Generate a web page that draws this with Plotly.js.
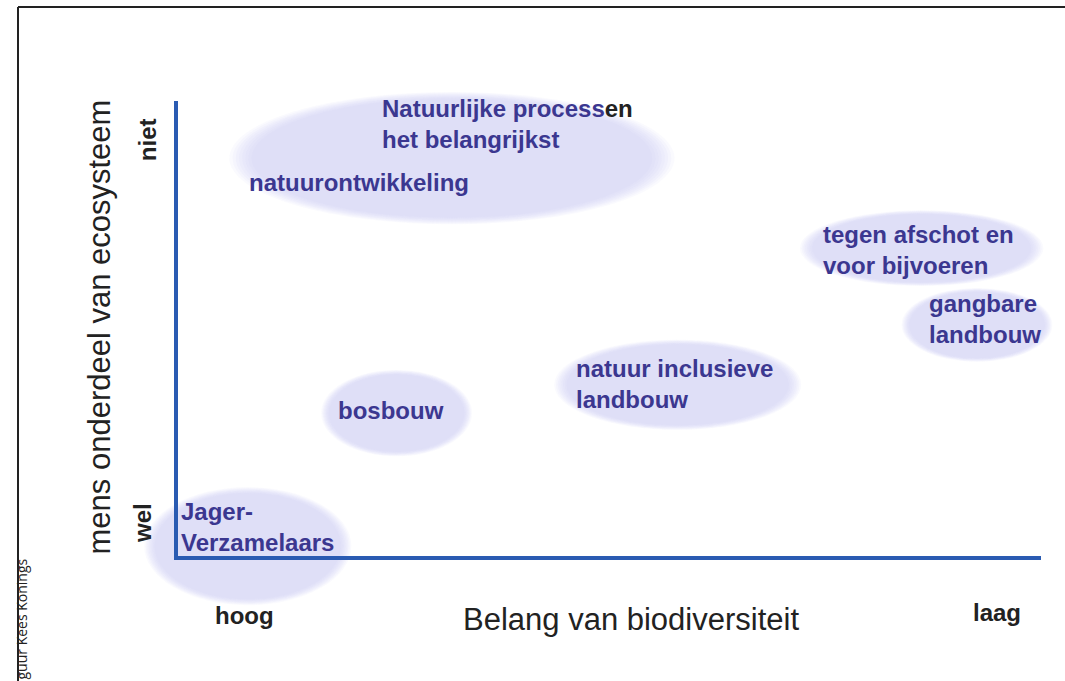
<!DOCTYPE html>
<html>
<head>
<meta charset="utf-8">
<script src="https://cdn.plot.ly/plotly-3.0.1.min.js"></script>
<style>html,body{margin:0;padding:0;background:#fff;}#chart{width:1065px;height:681px;}</style>
</head>
<body>
<div id="chart"></div>
<script>
// ---- data (conceptual units: 0..10 on both axes) ----
const groups = ["natuurontwikkeling", "tegen afschot", "gangbare landbouw", "natuur inclusieve landbouw", "bosbouw", "Jager-Verzamelaars"];
const biodiversity = [3.19, 8.62, 9.26, 5.80, 2.55, 0.83];   // x: 0 = hoog, 10 = laag
const humanPart    = [8.75, 6.78, 5.10, 3.79, 3.17, 0.26];   // y: 0 = wel, 10 = niet
const spreadX      = [2.45, 1.34, 0.83, 1.36, 0.83, 1.14];
const spreadY      = [1.38, 0.79, 0.77, 0.94, 0.90, 1.23];

const labelTexts = [
  "Natuurlijke processen<br>het belangrijkst",
  "natuurontwikkeling",
  "tegen afschot en<br>voor bijvoeren",
  "gangbare<br>landbouw",
  "natuur inclusieve<br>landbouw",
  "bosbouw",
  "Jager-<br>Verzamelaars"
];
const labelX = [2.355, 0.825, 7.455, 8.685, 4.605, 1.845, 0.035];
const labelY = [9.50, 8.21, 6.74, 5.23, 3.81, 3.22, 0.68];

const xTickLabels = ["hoog", "laag"];
const yTickLabels = ["wel", "niet"];
const axisExtent = [0, 10];
const xTitle = "Belang van biodiversiteit";
const yTitle = "mens onderdeel van ecosysteem";
const credit = "guur Kees Konings";

// ---- layout geometry ----
const W = 1065, H = 681;
const ox = 176, xEnd = 1041, oy = 558, yTop = 101; // pixel positions of axis box
const pxX = (xEnd - ox) / (axisExtent[1] - axisExtent[0]);
const pxY = (oy - yTop) / (axisExtent[1] - axisExtent[0]);
const xRange = [axisExtent[0] - ox / pxX, axisExtent[1] + (W - xEnd) / pxX];
const yRange = [axisExtent[0] - (H - oy) / pxY, axisExtent[1] + yTop / pxY];

const shapes = [];
const layers = [1.05, 1.035, 1.02, 1.005, 0.99, 0.975, 0.96, 0.945];
groups.forEach((g, i) => {
  layers.forEach(s => {
    shapes.push({
      type: "circle", xref: "x", yref: "y", layer: "below",
      x0: biodiversity[i] - spreadX[i] * s, x1: biodiversity[i] + spreadX[i] * s,
      y0: humanPart[i] - spreadY[i] * s, y1: humanPart[i] + spreadY[i] * s,
      fillcolor: "rgba(200,200,242,0.085)", line: {width: 0}
    });
  });
});
// frame
shapes.push({type: "line", xref: "paper", yref: "paper", x0: 18 / W, x1: 1, y0: 1 - 7 / H, y1: 1 - 7 / H, line: {color: "#222", width: 2}});
shapes.push({type: "line", xref: "paper", yref: "paper", x0: 18 / W, x1: 18 / W, y0: 0, y1: 1 - 7 / H, line: {color: "#222", width: 2}});

const labelColor = "#3b3790";
const annotations = labelTexts.map((t, i) => ({
  x: labelX[i], y: labelY[i], xref: "x", yref: "y",
  text: i === 0 ? t.replace("processen", "process<span style=\"color:#222\">en</span>") : t,
  showarrow: false, xanchor: "left", yanchor: "middle", align: "left",
  font: {family: "Liberation Sans, Arial, sans-serif", size: 24, color: labelColor, weight: "bold"}
}));

const tickFont = {family: "Liberation Sans, Arial, sans-serif", size: 24, color: "#222", weight: "bold"};
annotations.push({x: axisExtent[0] + 0.79, y: axisExtent[0] - 1.25, xref: "x", yref: "y", text: xTickLabels[0], showarrow: false, font: tickFont});
annotations.push({x: axisExtent[1] - 0.51, y: axisExtent[0] - 1.20, xref: "x", yref: "y", text: xTickLabels[1], showarrow: false, font: tickFont});
annotations.push({x: axisExtent[0] - 0.38, y: axisExtent[0] + 0.77, xref: "x", yref: "y", text: yTickLabels[0], showarrow: false, textangle: -90, font: tickFont});
annotations.push({x: axisExtent[0] - 0.32, y: axisExtent[1] - 0.85, xref: "x", yref: "y", text: yTickLabels[1], showarrow: false, textangle: -90, font: tickFont});
annotations.push({x: 631 / W, y: 1 - 639 / H, xref: "paper", yref: "paper", text: xTitle, showarrow: false,
  font: {family: "Liberation Sans, Arial, sans-serif", size: 31, color: "#222"}});
annotations.push({x: 80 / W, y: 1 - 327 / H, xref: "paper", yref: "paper", text: yTitle, showarrow: false, textangle: -90,
  font: {family: "Liberation Sans, Arial, sans-serif", size: 31, color: "#222"}});
annotations.push({x: 9 / W, y: 1 - 619 / H, xref: "paper", yref: "paper", text: credit, showarrow: false, textangle: -90,
  yanchor: "middle", font: {family: "Open Sans, sans-serif", size: 14, color: "#222"}});

const traces = [{
  x: [axisExtent[0], axisExtent[0], axisExtent[1]],
  y: [axisExtent[1], axisExtent[0], axisExtent[0]],
  mode: "lines", line: {color: "#2a5bb2", width: 4}, hoverinfo: "skip", showlegend: false
}];

const layout = {
  width: W, height: H, margin: {l: 0, r: 0, t: 0, b: 0},
  paper_bgcolor: "#fff", plot_bgcolor: "#fff", showlegend: false,
  xaxis: {range: xRange, visible: false, fixedrange: true},
  yaxis: {range: yRange, visible: false, fixedrange: true},
  shapes: shapes, annotations: annotations
};
Plotly.newPlot("chart", traces, layout, {staticPlot: true, displayModeBar: false});
</script>
</body>
</html>
